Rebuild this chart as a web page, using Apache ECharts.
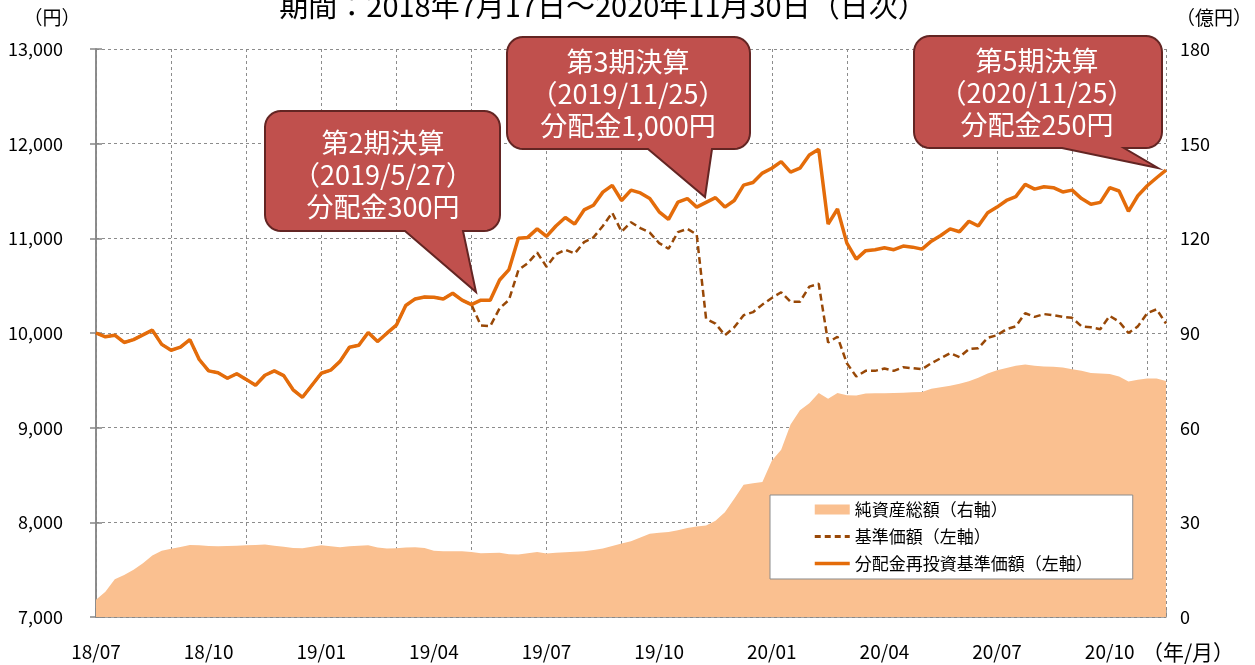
<!DOCTYPE html>
<html>
<head>
<meta charset="utf-8">
<script src="https://cdn.jsdelivr.net/npm/echarts@6/dist/echarts.min.js"></script>
<style>
  html, body { margin: 0; padding: 0; background: #fff; }
  #main { width: 1255px; height: 665px; }
</style>
</head>
<body>
<div id="main"></div>
<script>
// 期間：2018/7/17～2020/11/30、日次データを約5営業日ごとに読み取り
var tickLabels = ['18/07', '18/10', '19/01', '19/04', '19/07', '19/10', '20/01', '20/04', '20/07', '20/10'];

// 分配金再投資基準価額（左軸, 円）
var reinvestNav = [
  10000, 9960, 9977, 9900, 9930, 9980, 10030, 9880, 9818, 9850,
  9930, 9720, 9600, 9580, 9522, 9570, 9510, 9448, 9554, 9600,
  9550, 9400, 9321, 9448, 9575, 9607, 9700, 9850, 9870, 10005,
  9910, 9998, 10083, 10290, 10360, 10380, 10378, 10360, 10420, 10347,
  10300, 10347, 10347, 10560, 10670, 11000, 11010, 11100, 11020, 11130,
  11220, 11150, 11300, 11350, 11488, 11560, 11400, 11510, 11480, 11420,
  11280, 11200, 11383, 11420, 11330, 11380, 11430, 11330, 11400, 11562,
  11590, 11689, 11740, 11810, 11700, 11741, 11880, 11940, 11150, 11310,
  10949, 10780, 10870, 10880, 10900, 10880, 10918, 10907, 10886, 10970,
  11030, 11100, 11070, 11180, 11130, 11270, 11330, 11400, 11440, 11570,
  11520, 11545, 11535, 11490, 11509, 11420, 11360, 11380, 11535, 11500,
  11285, 11450, 11555, 11640, 11720
];

// 基準価額（左軸, 円）
var nav = [
  10000, 9960, 9977, 9900, 9930, 9980, 10030, 9880, 9818, 9850,
  9930, 9720, 9600, 9580, 9522, 9570, 9510, 9448, 9554, 9600,
  9550, 9400, 9321, 9448, 9575, 9607, 9700, 9850, 9870, 10005,
  9910, 9998, 10083, 10290, 10360, 10380, 10378, 10360, 10420, 10347,
  10300, 10080, 10072, 10260, 10350, 10664, 10738, 10850, 10700, 10830,
  10880, 10840, 10960, 11010, 11130, 11270, 11070, 11170, 11108, 11060,
  10950, 10890, 11066, 11100, 11040, 10150, 10100, 9977, 10060, 10188,
  10220, 10300, 10370, 10430, 10330, 10330, 10490, 10520, 9900, 9960,
  9680, 9540, 9600, 9600, 9625, 9600, 9639, 9628, 9617, 9681,
  9734, 9787, 9745, 9830, 9840, 9950, 9977, 10040, 10070, 10209,
  10170, 10200, 10188, 10170, 10160, 10070, 10060, 10040, 10180, 10120,
  10000, 10070, 10210, 10250, 10100
];

// 純資産総額（右軸, 億円）
var netAssets = [
  5.5, 8, 12, 13.3, 15, 17, 19.5, 21, 21.6, 22.2,
  22.8, 22.7, 22.5, 22.4, 22.5, 22.6, 22.7, 22.8, 23.0, 22.6,
  22.3, 21.9, 21.8, 22.3, 22.7, 22.4, 22.1, 22.4, 22.6, 22.7,
  22.0, 21.7, 21.8, 22.0, 22.1, 21.9, 21.0, 20.8, 20.8, 20.8,
  20.6, 20.2, 20.3, 20.4, 19.9, 19.8, 20.2, 20.6, 20.1, 20.4,
  20.5, 20.7, 20.8, 21.2, 21.7, 22.5, 23.3, 24.0, 25.2, 26.4,
  26.7, 26.9, 27.5, 28.2, 28.7, 29.0, 30.5, 33.2, 37.5, 41.9,
  42.4, 42.8, 49.5, 53.0, 61.0, 65.5, 67.7, 71.0, 69.2, 71.0,
  70.3, 70.2, 70.8, 70.9, 70.9, 71.0, 71.1, 71.2, 71.3, 72.3,
  72.8, 73.3, 73.9, 74.7, 75.8, 77.2, 78.2, 78.9, 79.6, 80.0,
  79.6, 79.4, 79.3, 79.1, 78.5, 78.0, 77.3, 77.2, 77.0, 76.2,
  74.6, 75.2, 75.6, 75.6, 74.8
];

var FONT = '"Noto Sans CJK JP", "Noto Sans", sans-serif';
var lastIdx = reinvestNav.length - 1;

function pairs(arr) {
  return arr.map(function (v, i) { return [i, v]; });
}

// 吹き出し（角丸四角＋しっぽ）の頂点列
function arc(pts, cx, cy, r, a0, a1) {
  for (var k = 0; k <= 8; k++) {
    var a = a0 + (a1 - a0) * k / 8;
    pts.push([cx + r * Math.cos(a), cy + r * Math.sin(a)]);
  }
}
function bubble(b) {
  var r = b.r, pts = [], P = Math.PI;
  arc(pts, b.x0 + r, b.y0 + r, r, P, 1.5 * P);        // 左上
  arc(pts, b.x1 - r, b.y0 + r, r, 1.5 * P, 2 * P);    // 右上
  arc(pts, b.x1 - r, b.y1 - r, r, 0, 0.5 * P);        // 右下
  pts.push([b.bx1, b.y1], [b.tx, b.ty], [b.bx0, b.y1]);
  arc(pts, b.x0 + r, b.y1 - r, r, 0.5 * P, P);        // 左下
  return pts;
}

var callouts = [
  { x0: 265, y0: 111, x1: 500, y1: 231, r: 16, bx0: 405, bx1: 463, tx: 476, ty: 292,
    text: '第2期決算\n（2019/5/27）\n分配金300円', cx: 383, cy: 175 },
  { x0: 507, y0: 37, x1: 750, y1: 149, r: 16, bx0: 648, bx1: 712, tx: 705, ty: 197,
    text: '第3期決算\n（2019/11/25）\n分配金1,000円', cx: 628, cy: 94 },
  { x0: 914, y0: 36, x1: 1162, y1: 148, r: 16, bx0: 1062, bx1: 1124, tx: 1158, ty: 168,
    text: '第5期決算\n（2020/11/25）\n分配金250円', cx: 1037, cy: 93 }
];

var graphics = [
  { type: 'text', x: 603, y: 6, z: 50,
    style: { text: '期間：2018年7月17日～2020年11月30日（日次）', fill: '#000',
      fontSize: 29, fontFamily: FONT, align: 'center', verticalAlign: 'middle' } },
  { type: 'text', x: 52, y: 18, z: 50,
    style: { text: '（円）', fill: '#000', fontSize: 19, fontFamily: FONT,
      align: 'center', verticalAlign: 'middle' } },
  { type: 'text', x: 1214, y: 18, z: 50,
    style: { text: '（億円）', fill: '#000', fontSize: 19, fontFamily: FONT,
      align: 'center', verticalAlign: 'middle' } },
  { type: 'text', x: 1188, y: 652, z: 50,
    style: { text: '（年/月）', fill: '#000', fontSize: 21, fontFamily: FONT,
      align: 'center', verticalAlign: 'middle' } }
];
callouts.forEach(function (c) {
  graphics.push({
    type: 'polygon', z: 60,
    shape: { points: bubble(c) },
    style: { fill: '#C0504D', stroke: '#632523', lineWidth: 2 }
  });
  graphics.push({
    type: 'text', x: c.cx, y: c.cy, z: 61,
    style: { text: c.text, fill: '#fff', fontSize: 27, fontFamily: FONT,
      lineHeight: 32, align: 'center', verticalAlign: 'middle' }
  });
});

var gridLine = { show: true, lineStyle: { color: '#8c8c8c', width: 1, type: [3, 3] } };
var axisLineStyle = { show: true, lineStyle: { color: '#868686', width: 1.5 } };

var chart = echarts.init(document.getElementById('main'));
chart.setOption({
  animation: false,
  textStyle: { fontFamily: FONT },
  grid: { left: 96, right: 89, top: 49, bottom: 48 },
  legend: {
    orient: 'vertical',
    left: 770, top: 495,
    padding: [6, 40, 7, 43],
    itemGap: 10,
    itemWidth: 35,
    itemHeight: 10,
    backgroundColor: '#fff',
    borderColor: '#8c8c8c',
    borderWidth: 1,
    textStyle: { fontSize: 17, color: '#000', fontFamily: FONT },
    data: [
      { name: '純資産総額（右軸）', icon: 'rect', itemStyle: { color: '#FAC090', borderWidth: 0 } },
      { name: '基準価額（左軸）', icon: 'inherit', itemStyle: { opacity: 0 },
        lineStyle: { color: '#984807', width: 3, type: [6, 4] } },
      { name: '分配金再投資基準価額（左軸）', icon: 'inherit', itemStyle: { opacity: 0 },
        lineStyle: { color: '#E46C0A', width: 3.5 } }
    ]
  },
  xAxis: [
    {
      type: 'value', min: 0, max: lastIdx, interval: 12, position: 'bottom',
      axisLine: axisLineStyle,
      axisTick: { show: true, inside: true, length: 9, lineStyle: { color: '#868686', width: 1.5 } },
      axisLabel: {
        margin: 25, fontSize: 19, color: '#000', fontFamily: FONT,
        formatter: function (v) {
          return (v % 12 === 0 && v / 12 < tickLabels.length) ? tickLabels[v / 12] : '';
        }
      },
      splitLine: { show: false }
    },
    {
      // 縦の補助線（2か月ごと）
      type: 'value', min: 0, max: lastIdx, interval: 8, position: 'top',
      axisLine: { show: false }, axisTick: { show: false }, axisLabel: { show: false },
      splitLine: gridLine
    }
  ],
  yAxis: [
    {
      type: 'value', min: 7000, max: 13000, interval: 1000, position: 'left',
      axisLine: axisLineStyle,
      axisTick: { show: true, length: 6, lineStyle: { color: '#868686', width: 1.5 } },
      axisLabel: {
        margin: 33, fontSize: 18, color: '#000', fontFamily: FONT,
        formatter: function (v) { return v.toLocaleString('en-US'); }
      },
      splitLine: gridLine
    },
    {
      type: 'value', min: 0, max: 180, interval: 30, position: 'right',
      axisLine: axisLineStyle,
      axisTick: { show: true, length: 6, lineStyle: { color: '#868686', width: 1.5 } },
      axisLabel: { margin: 14, fontSize: 18, color: '#000', fontFamily: FONT },
      splitLine: { show: false }
    }
  ],
  series: [
    {
      name: '純資産総額（右軸）', type: 'line', xAxisIndex: 0, yAxisIndex: 1,
      data: pairs(netAssets), symbol: 'none', silent: true, z: 1,
      itemStyle: { color: '#FAC090' },
      lineStyle: { width: 0, color: '#FAC090' },
      areaStyle: { color: '#FAC090', opacity: 1 }
    },
    {
      name: '基準価額（左軸）', type: 'line', xAxisIndex: 0, yAxisIndex: 0,
      data: pairs(nav), symbol: 'none', silent: true, z: 3,
      itemStyle: { color: '#984807' },
      lineStyle: { color: '#984807', width: 2.5, type: [7, 4] }
    },
    {
      name: '分配金再投資基準価額（左軸）', type: 'line', xAxisIndex: 0, yAxisIndex: 0,
      data: pairs(reinvestNav), symbol: 'none', silent: true, z: 4,
      itemStyle: { color: '#E46C0A' },
      lineStyle: { color: '#E46C0A', width: 3.5 }
    }
  ],
  graphic: graphics
});
</script>
</body>
</html>
